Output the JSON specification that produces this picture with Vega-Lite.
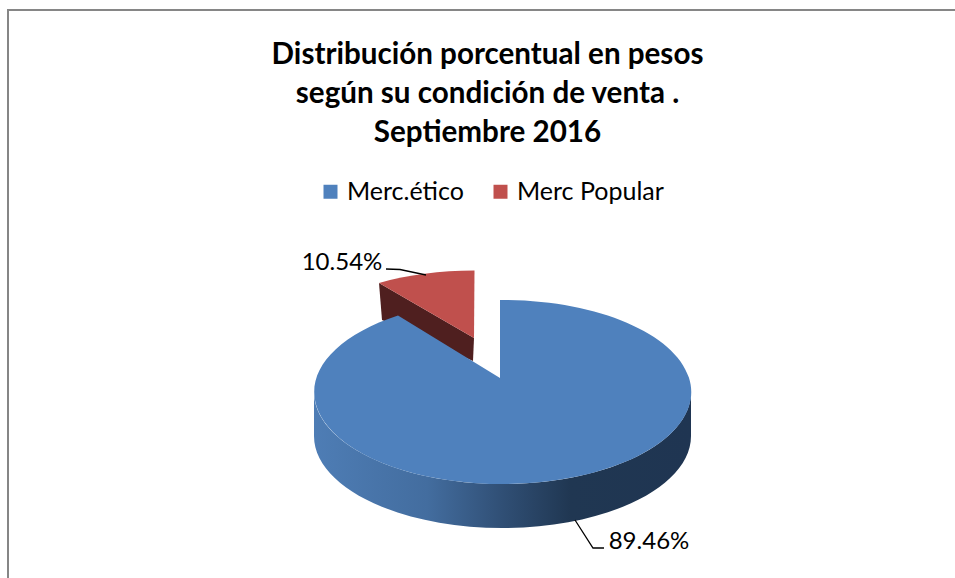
{"$schema":"https://vega.github.io/schema/vega-lite/v6.json","width":955,"height":578,"padding":0,"autosize":{"type":"none"},"background":"white","title":{"text":["Distribución porcentual en pesos","según su condición de venta .","Septiembre 2016"],"font":"Lato","fontSize":29.6,"fontWeight":"bold","lineHeight":39,"color":"black","anchor":"middle","frame":"group","baseline":"top","dx":10,"offset":-149},"config":{"view":{"stroke":null}},"data":{"values":[{"condicion":"Merc.ético","porcentaje":0.8946},{"condicion":"Merc Popular","porcentaje":0.1054}]},"layer":[{"data":{"values":[{"elemento":"marco"}]},"mark":{"type":"point","shape":"M-469.5 300L-469.5 -279L500 -279","size":4,"filled":false,"stroke":"#868686","strokeWidth":2,"opacity":1},"encoding":{}},{"transform":[{"filter":"datum.condicion==='Merc Popular'"}],"mark":{"type":"point","shape":"M-98.5 -6L-3.5 49L-4.5 72L-95.5 31Z","size":4,"filled":true,"fill":"#4f1f1f","opacity":1},"encoding":{}},{"transform":[{"filter":"datum.condicion==='Merc Popular'"}],"mark":{"type":"point","shape":"M-3.5 49L-98.5 -6A188.5 92 0 0 1 -3 -18.5Z","size":4,"filled":true,"fill":"#c0504d","opacity":1},"encoding":{}},{"transform":[{"filter":"datum.condicion==='Merc.ético'"}],"mark":{"type":"point","shape":"M-163.5 103A188.5 92 0 0 0 213.5 103L213.5 147A188.5 92 0 0 1 -163.5 147Z","size":4,"filled":true,"opacity":1,"fill":{"gradient":"linear","x1":0,"y1":0,"x2":1,"y2":0,"stops":[{"offset":0,"color":"#4e7db5"},{"offset":0.3,"color":"#436d9f"},{"offset":0.5,"color":"#304f75"},{"offset":0.68,"color":"#203752"},{"offset":1,"color":"#1f3552"}]}},"encoding":{}},{"transform":[{"filter":"datum.condicion==='Merc.ético'"}],"mark":{"type":"point","shape":"M22.5 89L22.5 11A188.5 92 0 1 1 -79.5 26.5Z","size":4,"filled":true,"fill":"#4f81bd","opacity":1},"encoding":{}},{"mark":{"type":"square","size":0,"opacity":1},"encoding":{"color":{"field":"condicion","type":"nominal","scale":{"domain":["Merc.ético","Merc Popular"],"range":["#4f81bd","#c0504d"]},"sort":null,"legend":{"title":null,"orient":"none","legendX":318,"legendY":179,"direction":"horizontal","columns":2,"symbolType":"square","symbolSize":196,"symbolOpacity":1,"symbolStrokeWidth":0,"labelFont":"Lato","labelFontSize":25,"labelColor":"black","labelOffset":4,"columnPadding":24}}}},{"data":{"values":[{"elemento":"guia"}]},"mark":{"type":"point","shape":"M-91.5 -20L-77.5 -19.5L-51.5 -14","size":4,"filled":false,"stroke":"black","strokeWidth":1.3,"opacity":1},"encoding":{}},{"data":{"values":[{"elemento":"guia"}]},"mark":{"type":"point","shape":"M97.5 231L115.5 259L126.5 259","size":4,"filled":false,"stroke":"black","strokeWidth":1.3,"opacity":1},"encoding":{}},{"transform":[{"filter":"datum.condicion==='Merc Popular'"}],"mark":{"type":"text","font":"Lato","fontSize":24,"color":"black","align":"center","baseline":"middle","dx":-135.5,"dy":-26},"encoding":{"text":{"field":"porcentaje","type":"quantitative","format":".2%"}}},{"transform":[{"filter":"datum.condicion==='Merc.ético'"}],"mark":{"type":"text","font":"Lato","fontSize":24,"color":"black","align":"center","baseline":"middle","dx":171.5,"dy":253},"encoding":{"text":{"field":"porcentaje","type":"quantitative","format":".2%"}}}]}
